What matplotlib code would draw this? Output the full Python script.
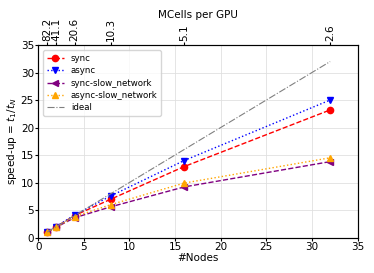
import matplotlib
matplotlib.use("Agg")
import matplotlib.pyplot as plt

nodes = [1, 2, 4, 8, 16, 32]
sync = [1.0, 2.0, 4.0, 7.0, 12.9, 23.2]
async_ = [1.0, 2.0, 4.1, 7.6, 14.0, 25.0]
sync_slow = [1.0, 1.9, 3.6, 5.6, 9.2, 13.8]
async_slow = [1.0, 1.9, 3.8, 6.0, 9.9, 14.5]
ideal = [1, 2, 4, 8, 16, 32]
mcells = ["82.2", "41.1", "20.6", "10.3", "5.1", "2.6"]

fig = plt.figure(figsize=(3.74, 2.73), dpi=100)
ax = fig.add_axes([0.102, 0.13, 0.854, 0.705])

ax.plot(nodes, sync, "r--", marker="o", markersize=4.5, lw=1, label="sync")
ax.plot(nodes, async_, "b:", marker="v", markersize=4.5, lw=1, label="async")
ax.plot(nodes, sync_slow, "--", color="purple", marker="<", markersize=4.5, lw=1, label="sync-slow_network")
ax.plot(nodes, async_slow, ":", color="orange", marker="^", markersize=4.5, lw=1, label="async-slow_network")
ax.plot(nodes, ideal, "-.", color="gray", lw=0.8, label="ideal")

ax.set_xlim(0, 35)
ax.set_ylim(0, 35)
ax.set_xlabel("#Nodes", fontsize=7.5, labelpad=1)
ax.set_ylabel(r"speed-up = $t_1/t_N$", fontsize=7.5, labelpad=1)
ax.tick_params(labelsize=7.5, pad=1, length=2)
ax.grid(True, color="#e0e0e0", lw=0.6)
for s in ax.spines.values():
    s.set_color("#444444")
ax.legend(fontsize=6.2, loc="upper left", borderaxespad=0.6, labelspacing=0.4)

ax2 = ax.twiny()
ax2.set_xlim(ax.get_xlim())
ax2.set_xticks(nodes)
ax2.set_xticklabels(mcells, rotation=90)
ax2.tick_params(labelsize=7.5, pad=1, length=2)
ax2.set_xlabel("MCells per GPU", fontsize=7.5, labelpad=0)

fig.savefig("out.png", dpi=100)
